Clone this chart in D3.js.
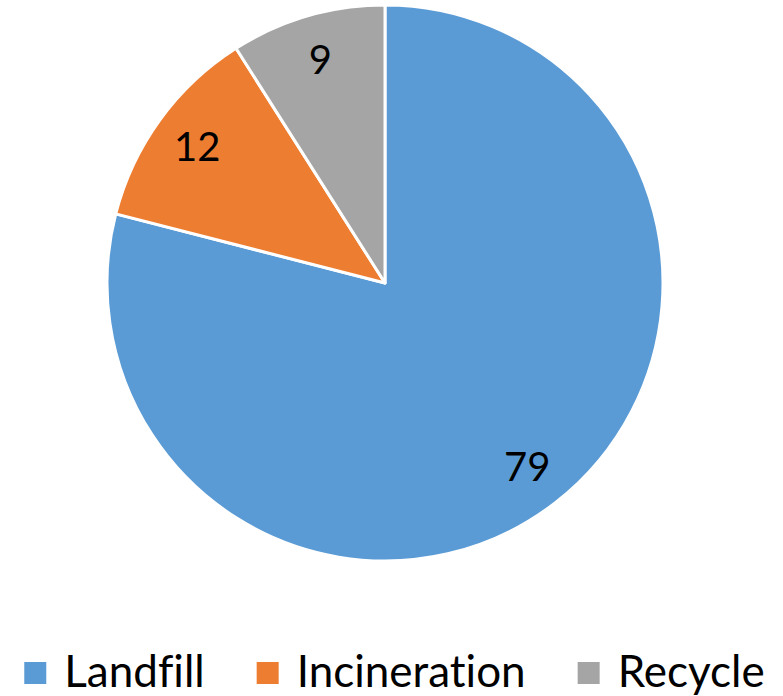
<!DOCTYPE html>
<html>
<head>
<meta charset="utf-8">
<script src="https://cdn.jsdelivr.net/npm/d3@7"></script>
<style>
  html, body { margin: 0; padding: 0; background: #fff; }
  svg { display: block; }
  text { font-family: Lato, "Open Sans", sans-serif; fill: #000; font-variant-ligatures: none; font-feature-settings: "liga" 0; }
</style>
</head>
<body>
<svg id="chart" width="783" height="696"></svg>
<script>
// Waste treatment shares (percent)
const categories = ["Landfill", "Incineration", "Recycle"];
const values = [79, 12, 9];
const colors = ["#5B9BD5", "#ED7D31", "#A5A5A5"];

const width = 783, height = 696;
const cx = 385, cy = 283, radius = 278;

const svg = d3.select("#chart");

const color = d3.scaleOrdinal().domain(categories).range(colors);

const pie = d3.pie().sort(null).value(d => d.value)
  .startAngle(0).endAngle(2 * Math.PI);

const data = categories.map((c, i) => ({ name: c, value: values[i] }));
const arcs = pie(data);

const arc = d3.arc().innerRadius(0).outerRadius(radius);
const labelArc = d3.arc().innerRadius(radius * 0.835).outerRadius(radius * 0.835);

const g = svg.append("g").attr("transform", `translate(${cx},${cy})`);

g.selectAll("path.slice")
  .data(arcs)
  .join("path")
  .attr("class", "slice")
  .attr("d", arc)
  .attr("fill", d => color(d.data.name))
  .attr("stroke", "#fff")
  .attr("stroke-width", 3)
  .attr("stroke-linejoin", "round");

g.selectAll("text.value")
  .data(arcs)
  .join("text")
  .attr("class", "value")
  .attr("transform", d => `translate(${labelArc.centroid(d)})`)
  .attr("text-anchor", "middle")
  .attr("dy", "0.36em")
  .style("font-size", "40px")
  .text(d => d.data.value);

// Legend centred along the bottom
const legend = svg.append("g").attr("class", "legend");
const box = 22, textGap = 18, itemGap = 52, baseline = 687;

const items = legend.selectAll("g.item")
  .data(data)
  .join("g")
  .attr("class", "item");

items.append("rect")
  .attr("width", box).attr("height", box)
  .attr("y", baseline - 25)
  .attr("fill", d => color(d.name));

items.append("text")
  .attr("x", box + textGap)
  .attr("y", baseline)
  .style("font-size", "44px")
  .text(d => d.name);

let x = 0;
const offsets = [];
items.each(function() {
  offsets.push(x);
  const w = box + textGap + d3.select(this).select("text").node().getComputedTextLength();
  x += w + itemGap;
});
const total = x - itemGap;
const startX = (width - total) / 2 + 3;
items.attr("transform", (d, i) => `translate(${startX + offsets[i]},0)`);
</script>
</body>
</html>
